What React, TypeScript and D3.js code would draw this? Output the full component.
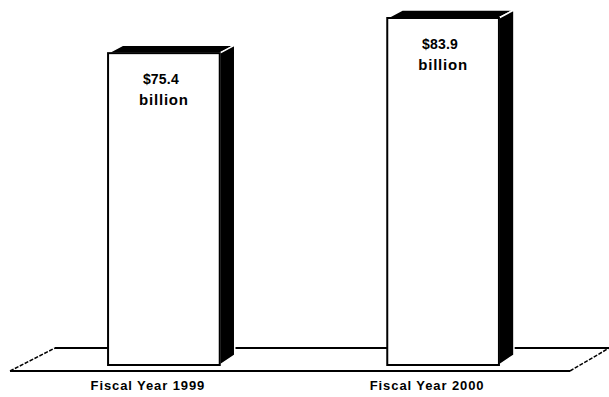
import React from "react";
import * as d3 from "d3";

const categories = ["Fiscal Year 1999", "Fiscal Year 2000"];
const values = [75.4, 83.9];
const valueLabels = ["$75.4", "$83.9"];
const unitLabel = "billion";

const W = 609;
const H = 397;
const BASE = 365;
const DX = 15;
const DY = -8;

export default function App() {
  const x = d3.scaleBand<string>().domain(categories).range([24.3, 582.7]).paddingInner(0.6).paddingOuter(0.3);
  const y = d3.scaleLinear().domain([0, 83.9]).range([BASE, 18]);
  const bw = x.bandwidth();
  const font = "Arial, 'Liberation Sans', Helvetica, sans-serif";
  const line = d3.line<[number, number]>();

  return (
    <svg width={W} height={H} style={{ position: "absolute", left: 0, top: 0, background: "#fff" }}>
      {/* floor */}
      <path d={line([[55, 348], [W + 2, 348]]) || ""} stroke="#000" strokeWidth={2} fill="none" />
      <path d={line([[10, 371], [570, 371]]) || ""} stroke="#000" strokeWidth={2} fill="none" />
      <path d={line([[10, 371], [55, 348]]) || ""} stroke="#000" strokeWidth={1.5} strokeDasharray="4,1.5" fill="none" />
      <path d={line([[570, 371], [610, 347.5]]) || ""} stroke="#000" strokeWidth={1.5} strokeDasharray="4,1.5" fill="none" />
      {categories.map((c, i) => {
        const x0 = x(c) as number;
        const top = y(values[i]);
        const x1 = x0 + bw;
        const topPoly: [number, number][] = [[x0, top], [x0 + DX, top + DY], [x1 + DX, top + DY], [x1, top]];
        const sidePoly: [number, number][] = [[x1, top], [x1 + DX, top + DY], [x1 + DX, BASE + DY - 2], [x1, BASE]];
        const cx = x0 + bw / 2;
        return (
          <g key={c}>
            <path d={(line(topPoly) || "") + "Z"} fill="#000" stroke="#fff" strokeWidth={1.5} />
            <path d={(line(sidePoly) || "") + "Z"} fill="#000" stroke="#fff" strokeWidth={1.5} />
            <rect x={x0} y={top} width={bw} height={BASE - top} fill="#fff" stroke="#000" strokeWidth={2} />
            <text x={cx - 3} y={top + 31} textAnchor="middle" fontFamily={font} fontWeight="bold" fontSize={14} letterSpacing={0.2} fill="#000">
              {valueLabels[i]}
            </text>
            <text x={cx} y={top + 52} textAnchor="middle" fontFamily={font} fontWeight="bold" fontSize={15} letterSpacing={0.8} fill="#000">
              {unitLabel}
            </text>
            <text x={cx - 16} y={390} textAnchor="middle" fontFamily={font} fontWeight="bold" fontSize={13} letterSpacing={0.9} fill="#000">
              {c}
            </text>
          </g>
        );
      })}
    </svg>
  );
}
